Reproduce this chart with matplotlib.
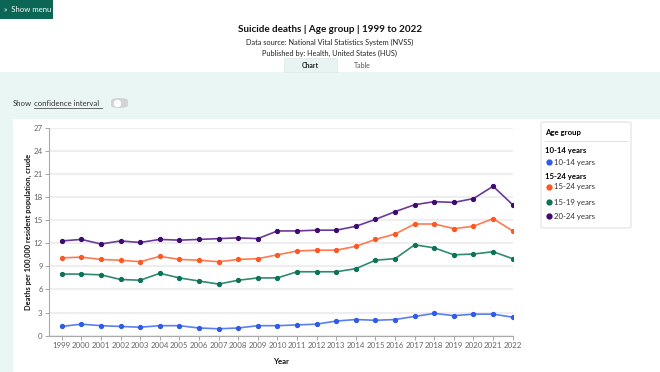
import matplotlib.pyplot as plt
from matplotlib.patches import Rectangle, FancyBboxPatch
from matplotlib.lines import Line2D

years = list(range(1999, 2023))

ages_10_14 = [1.2, 1.5, 1.3, 1.2, 1.1, 1.3, 1.3, 1.0, 0.9, 1.0, 1.3, 1.3,
              1.4, 1.5, 1.9, 2.1, 2.0, 2.1, 2.5, 2.9, 2.6, 2.8, 2.8, 2.4]
ages_15_24 = [10.1, 10.2, 9.9, 9.8, 9.6, 10.3, 9.9, 9.8, 9.6, 9.9, 10.0, 10.5,
              11.0, 11.1, 11.1, 11.6, 12.5, 13.2, 14.5, 14.5, 13.9, 14.2, 15.2, 13.6]
ages_15_19 = [8.0, 8.0, 7.9, 7.3, 7.2, 8.1, 7.5, 7.1, 6.7, 7.2, 7.5, 7.5,
              8.3, 8.3, 8.3, 8.7, 9.8, 10.0, 11.8, 11.4, 10.5, 10.6, 10.9, 10.0]
ages_20_24 = [12.3, 12.5, 11.9, 12.3, 12.1, 12.5, 12.4, 12.5, 12.6, 12.7, 12.6, 13.6,
              13.6, 13.7, 13.7, 14.2, 15.1, 16.1, 17.0, 17.4, 17.3, 17.8, 19.4, 17.0]

series_names = ["10-14 years", "15-24 years", "15-19 years", "20-24 years"]
series_values = [ages_10_14, ages_15_24, ages_15_19, ages_20_24]
colors = ["#2f5be6", "#ff5722", "#0a7358", "#3e0a72"]
line_colors = ["#5b7ff0", "#ff7a52", "#2f8a70", "#6a3a9a"]

W, H = 660, 372
plt.rcParams['font.family'] = ['Lato', 'DejaVu Sans']

fig = plt.figure(figsize=(W / 100, H / 100), dpi=100)
fig.patch.set_facecolor("white")


def box(x, y, w, h):
    # pixel box (top-left origin) -> figure fraction
    return x / W, 1 - (y + h) / H, w / W, h / H


def px(x, y):
    return x / W, 1 - y / H


def rect(x, y, w, h, **kw):
    x0, y0, w0, h0 = box(x, y, w, h)
    fig.patches.append(Rectangle((x0, y0), w0, h0, transform=fig.transFigure, **kw))


# page background (drawn under the axes)
rect(0, 72, W, H - 72, facecolor="#eaf6f3", edgecolor="none", zorder=-2)
rect(13, 119, W - 13, H - 119, facecolor="white", edgecolor="none", zorder=-1)

# menu button
rect(0, 0, 53, 19, facecolor="#0b6655", edgecolor="none", zorder=1)
fig.text(*px(4, 10), "»  Show menu", color="white", fontsize=5.6, va="center", ha="left")

# header
fig.text(*px(330, 30), "Suicide deaths | Age group | 1999 to 2022", fontsize=7.1,
         fontweight="bold", ha="center", va="center", color="#111111")
fig.text(*px(330, 42), "Data source: National Vital Statistics System (NVSS)", fontsize=5.3,
         ha="center", va="center", color="#222222")
fig.text(*px(330, 53), "Published by: Health, United States (HUS)", fontsize=5.3,
         ha="center", va="center", color="#222222")

rect(284, 58, 53, 14, facecolor="#e8f4f2", edgecolor="#dde8e6", lw=0.5, zorder=1)
fig.text(*px(310, 65), "Chart", fontsize=5.0, fontweight="bold", ha="center", va="center", color="#222222")
fig.text(*px(362, 65), "Table", fontsize=5.0, ha="center", va="center", color="#555555")

# confidence interval toggle
fig.text(*px(13, 103), "Show", fontsize=5.6, ha="left", va="center", color="#333333")
fig.text(*px(34, 103), "confidence interval", fontsize=5.6, ha="left", va="center", color="#333333")
fig.lines.append(Line2D([34 / W, 102 / W], [1 - 107.5 / H] * 2, transform=fig.transFigure,
                        color="#333333", lw=0.5))
x0, y0, w0, h0 = box(111, 98, 17, 10)
fig.patches.append(FancyBboxPatch((x0, y0), w0, h0, transform=fig.transFigure,
                                  boxstyle="round,pad=0,rounding_size=0.013",
                                  facecolor="#d4d4d4", edgecolor="none", zorder=2,
                                  mutation_aspect=H / W))
fig.lines.append(Line2D([116.5 / W], [1 - 103 / H], transform=fig.transFigure, marker="o",
                        markersize=6, color="white", markeredgecolor="#c8c8c8",
                        markeredgewidth=0.4, zorder=3))

# chart
ax = fig.add_axes(box(49, 127.7, 463.7, 208))
ax.set_facecolor("white")
for name, vals, c, lc in zip(series_names, series_values, colors, line_colors):
    ax.plot(years, vals, color=lc, lw=1.2, zorder=3)
    ax.plot(years, vals, color=c, lw=0, marker="o", markersize=2.8, zorder=4)

ax.set_xlim(1998.35, 2022.0)
ax.set_ylim(0, 27)
ax.set_xticks(years)
ax.set_yticks(range(0, 28, 3))
ax.tick_params(axis="both", labelsize=5.7, labelcolor="#666666", color="#999999",
               length=3, width=0.6, pad=1.5)
ax.grid(axis="y", color="#eeeeee", lw=1.5, zorder=0)
ax.set_axisbelow(True)
for s in ["top", "right"]:
    ax.spines[s].set_visible(False)
for s in ["left", "bottom"]:
    ax.spines[s].set_color("#aaaaaa")
    ax.spines[s].set_linewidth(0.8)

fig.text(*px(28, 232), "Deaths per 100,000 resident population, crude", rotation=90,
         fontsize=5.4, fontweight="bold", ha="center", va="center", color="#111111")
fig.text(*px(281, 361), "Year", fontsize=5.6, fontweight="bold", ha="center", va="center",
         color="#111111")

# legend panel
x0, y0, w0, h0 = box(541, 122, 90, 106)
fig.patches.append(FancyBboxPatch((x0, y0), w0, h0, transform=fig.transFigure,
                                  boxstyle="round,pad=0,rounding_size=0.006",
                                  facecolor="white", edgecolor="#e2e2e2", lw=0.8,
                                  mutation_aspect=H / W))
fig.text(*px(545, 132), "Age group", fontsize=5.6, fontweight="bold", ha="left", va="center")
fig.lines.append(Line2D([545 / W, 627 / W], [1 - 141 / H] * 2, transform=fig.transFigure,
                        color="#e4e4e4", lw=0.8))
fig.text(*px(545, 150), "10-14 years", fontsize=5.6, fontweight="bold", ha="left", va="center")
fig.text(*px(545, 176), "15-24 years", fontsize=5.6, fontweight="bold", ha="left", va="center")
item_y = [162, 187, 202, 216]
for name, c, yy in zip(series_names, colors, item_y):
    fig.lines.append(Line2D([548.5 / W], [1 - yy / H], transform=fig.transFigure,
                            marker="o", markersize=3.5, color=c, lw=0, zorder=3))
    fig.text(*px(554, yy), name, fontsize=5.6, ha="left", va="center", color="#333333")

fig.savefig("out.png", dpi=100)
